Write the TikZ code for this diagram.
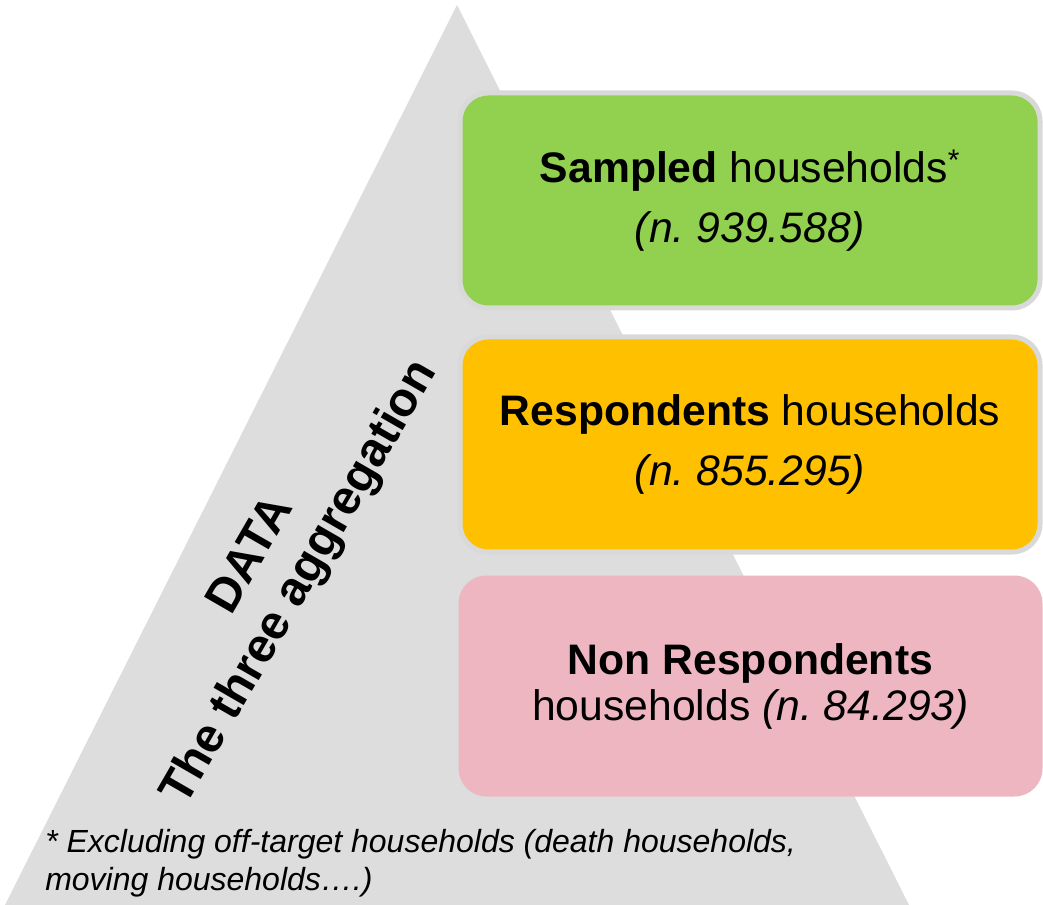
\documentclass[tikz,border=0pt]{standalone}
\usepackage{fontspec}
\setmainfont{Liberation Sans}
\usepackage{xcolor}
\usetikzlibrary{positioning}
\definecolor{pyramidgray}{HTML}{DDDDDD}
\definecolor{framegray}{HTML}{D9D9D9}
\definecolor{sampledgreen}{HTML}{92D050}
\definecolor{respyellow}{HTML}{FFC000}
\definecolor{nonresppink}{HTML}{EDB6C0}
\frenchspacing
\tikzset{
    %Define style for the household boxes
    householdbox/.style={
           rectangle,
           rounded corners=21pt,
           draw=framegray, line width=3.75pt,
           minimum width=435pt,
           minimum height=161.25pt,
           inner sep=0pt,
           align=center,
           font=\fontsize{32}{45}\selectfont},
    householdboxflat/.style={
           householdbox,
           draw=none,
           minimum width=438pt,
           minimum height=165.75pt,
           font=\fontsize{32}{34.5}\selectfont}
}

\begin{document}
\begin{tikzpicture}[x=0.75pt, y=-0.75pt]
\useasboundingbox (0,0) rectangle (1043,905);
\fill[pyramidgray] (457,5) -- (909,905) -- (5,905) -- cycle;
\node[householdbox, fill=sampledgreen, anchor=north west] (sampled) at (457.5,90.5) {\textbf{Sampled} households\textsuperscript{*}\\\textit{(n. 939.588)}};
\node[householdbox, fill=respyellow, anchor=north west] (respondents) at (457.5,334.5) {\textbf{Respondents} households\\\textit{(n. 855.295)}};
\node[householdboxflat, fill=nonresppink, anchor=north west] (nonrespondents) at (456,573) {\textbf{Non Respondents}\\households \textit{(n. 84.293)}};
\node[rotate=60, align=center, font=\bfseries\fontsize{36}{42}\selectfont] (datalabel) at (277,570) {DATA\\The three aggregation};
\node[anchor=north west, inner sep=0pt, align=left, font=\itshape\fontsize{24}{28.5}\selectfont] (footnote) at (45,829) {* Excluding off-target households (death households,\\moving households….)};
\end{tikzpicture}
\end{document}
